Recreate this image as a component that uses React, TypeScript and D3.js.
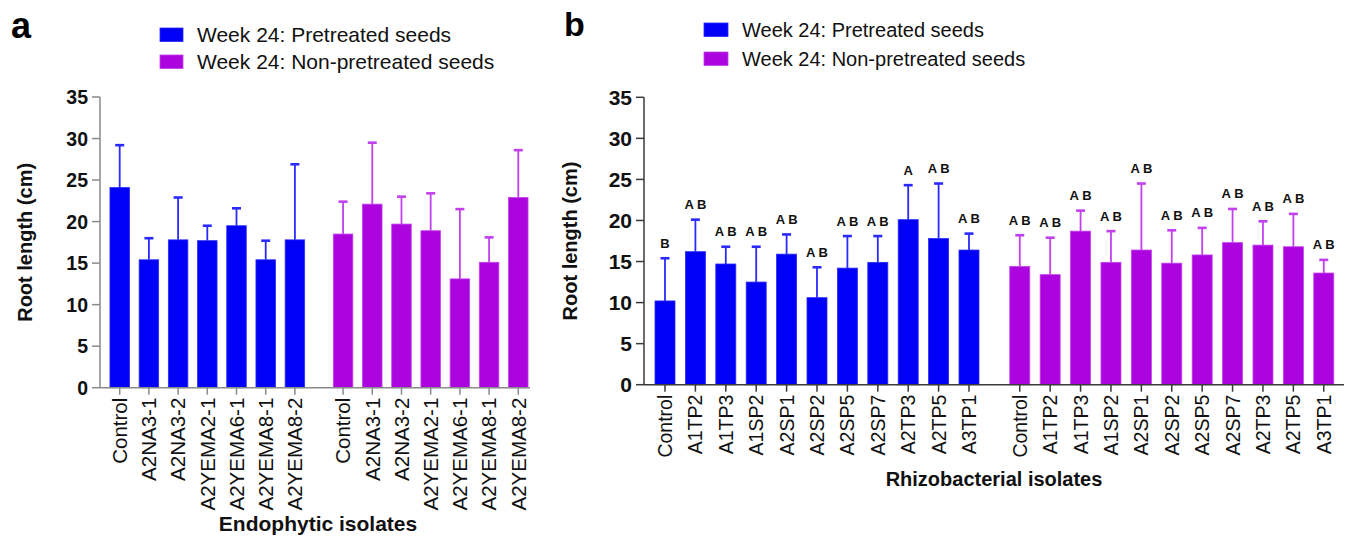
import React from 'react';
import * as d3 from 'd3';

// Panel a: endophytic isolates
const endoCats = ['Control', 'A2NA3-1', 'A2NA3-2', 'A2YEMA2-1', 'A2YEMA6-1', 'A2YEMA8-1', 'A2YEMA8-2'];
const endoPre = [24.1, 15.4, 17.8, 17.7, 19.5, 15.4, 17.8];
const endoPreSd = [5.1, 2.6, 5.1, 1.8, 2.1, 2.3, 9.1];
const endoNon = [18.5, 22.1, 19.7, 18.9, 13.1, 15.1, 22.9];
const endoNonSd = [3.9, 7.4, 3.3, 4.5, 8.4, 3.0, 5.7];

// Panel b: rhizobacterial isolates
const rhizoCats = ['Control', 'A1TP2', 'A1TP3', 'A1SP2', 'A2SP1', 'A2SP2', 'A2SP5', 'A2SP7', 'A2TP3', 'A2TP5', 'A3TP1'];
const rhizoPre = [10.2, 16.2, 14.7, 12.5, 15.9, 10.6, 14.2, 14.9, 20.1, 17.8, 16.4];
const rhizoPreSd = [5.2, 3.9, 2.1, 4.3, 2.4, 3.7, 3.9, 3.2, 4.2, 6.7, 2.0];
const rhizoPreLetters = ['B', 'A B', 'A B', 'A B', 'A B', 'A B', 'A B', 'A B', 'A', 'A B', 'A B'];
const rhizoNon = [14.4, 13.4, 18.7, 14.9, 16.4, 14.8, 15.8, 17.3, 17.0, 16.8, 13.6];
const rhizoNonSd = [3.8, 4.5, 2.5, 3.8, 8.1, 4.0, 3.3, 4.1, 2.9, 4.0, 1.6];
const rhizoNonLetters = ['A B', 'A B', 'A B', 'A B', 'A B', 'A B', 'A B', 'A B', 'A B', 'A B', 'A B'];

const yTicks = [0, 5, 10, 15, 20, 25, 30, 35];
const legendLabels = ['Week 24: Pretreated seeds', 'Week 24: Non-pretreated seeds'];

const BLUE = '#0000f6';
const BLUE_EDGE = '#2a2aff';
const PURPLE = '#ab04df';
const PURPLE_EDGE = '#c240ee';
const FONT = 'Liberation Sans, Arial, sans-serif';

interface PanelProps {
  letter: string;
  letterX: number;
  letterY: number;
  letterSize: number;
  cats: string[];
  pre: number[];
  preSd: number[];
  non: number[];
  nonSd: number[];
  preLetters?: string[];
  nonLetters?: string[];
  gapSlots: number;
  x0: number;
  step: number;
  barW: number;
  axisX: number;
  axisEnd: number;
  yTop: number;
  yBottom: number;
  axisColor: string;
  tickSize: number;
  ytitleX: number;
  ytitleSize: number;
  xLabelSize: number;
  xtitle: string;
  xtitleX: number;
  xtitleY: number;
  xtitleSize: number;
  legendX: number;
  legendY: number[];
  legendSize: number;
  swatchW: number;
}

const Panel: React.FC<PanelProps> = (p) => {
  const n = p.cats.length;
  const lastSlot = n + p.gapSlots + n - 1;
  const x = d3.scaleLinear().domain([0, lastSlot]).range([p.x0, p.x0 + lastSlot * p.step]);
  const y = d3.scaleLinear().domain([0, 35]).range([p.yBottom, p.yTop]);

  const groups = [
    { vals: p.pre, sd: p.preSd, fill: BLUE, edge: BLUE_EDGE, off: 0, letters: p.preLetters },
    { vals: p.non, sd: p.nonSd, fill: PURPLE, edge: PURPLE_EDGE, off: n + p.gapSlots, letters: p.nonLetters },
  ];

  return (
    <g>
      <text x={p.letterX} y={p.letterY} fontSize={p.letterSize} fontWeight="bold" fontFamily={FONT}>{p.letter}</text>

      {legendLabels.map((lab, i) => (
        <g key={lab}>
          <rect x={p.legendX} y={p.legendY[i] - 14} width={p.swatchW} height={13.5}
            fill={i === 0 ? BLUE : PURPLE} stroke={i === 0 ? BLUE_EDGE : PURPLE_EDGE} strokeWidth={0.8} />
          <text x={p.legendX + p.swatchW + 14} y={p.legendY[i]} fontSize={p.legendSize} fontFamily={FONT} fill="#111">{lab}</text>
        </g>
      ))}

      {/* y axis */}
      <line x1={p.axisX} x2={p.axisX} y1={p.yTop} y2={p.yBottom} stroke={p.axisColor} strokeWidth={1.5} />
      {yTicks.map(t => (
        <g key={t}>
          <line x1={p.axisX - 8} x2={p.axisX} y1={y(t)} y2={y(t)} stroke={p.axisColor} strokeWidth={1.5} />
          <text x={p.axisX - 12} y={y(t)} dy="0.36em" textAnchor="end" fontSize={p.tickSize}
            fontWeight="bold" fontFamily={FONT} fill="#111">{t}</text>
        </g>
      ))}
      <text transform={`translate(${p.ytitleX},${(p.yTop + p.yBottom) / 2}) rotate(-90)`} textAnchor="middle"
        fontSize={p.ytitleSize} fontWeight="bold" fontFamily={FONT} fill="#111">Root length (cm)</text>

      {/* bars */}
      {groups.map((g, gi) => g.vals.map((v, i) => {
        const cx = x(g.off + i);
        const top = y(v);
        const errTop = y(v + g.sd[i]);
        return (
          <g key={`${gi}-${i}`}>
            <rect x={cx - p.barW / 2} y={top} width={p.barW} height={p.yBottom - top}
              fill={g.fill} stroke={g.edge} strokeWidth={0.8} />
            <line x1={cx} x2={cx} y1={top} y2={errTop} stroke={g.edge} strokeWidth={1.8} />
            <line x1={cx - 4.5} x2={cx + 4.5} y1={errTop} y2={errTop} stroke={g.edge} strokeWidth={2.6} />
            {g.letters && (
              <text x={cx} y={errTop - 10.5} textAnchor="middle" fontSize={13} fontWeight="bold"
                fontFamily={FONT} fill="#111">{g.letters[i]}</text>
            )}
          </g>
        );
      }))}

      {/* x axis */}
      <line x1={p.axisX} x2={p.axisEnd} y1={p.yBottom} y2={p.yBottom} stroke={p.axisColor} strokeWidth={1.5} />
      {groups.map((g, gi) => p.cats.map((c, i) => {
        const cx = x(g.off + i);
        return (
          <g key={`t${gi}-${i}`}>
            <line x1={cx} x2={cx} y1={p.yBottom} y2={p.yBottom + 7} stroke={p.axisColor} strokeWidth={1.5} />
            <text transform={`translate(${cx},${p.yBottom + 10}) rotate(-90)`} dy="0.36em" textAnchor="end"
              fontSize={p.xLabelSize} fontFamily={FONT} fill="#111">{c}</text>
          </g>
        );
      }))}
      <text x={p.xtitleX} y={p.xtitleY} textAnchor="middle" fontSize={p.xtitleSize} fontWeight="bold"
        fontFamily={FONT} fill="#111">{p.xtitle}</text>
    </g>
  );
};

export default function App() {
  return (
    <svg width={1355} height={545} viewBox="0 0 1355 545"
      style={{ position: 'absolute', left: 0, top: 0, background: '#fff', display: 'block' }}>
      <rect width={1355} height={545} fill="#fff" />
      <Panel
        letter="a" letterX={11} letterY={38} letterSize={36}
        cats={endoCats} pre={endoPre} preSd={endoPreSd} non={endoNon} nonSd={endoNonSd}
        gapSlots={0.65} x0={119.7} step={29.2} barW={19.5}
        axisX={100} axisEnd={530} yTop={97} yBottom={387.7} axisColor="#8a8a8a" tickSize={19.5}
        ytitleX={32} ytitleSize={20} xLabelSize={20.5}
        xtitle="Endophytic isolates" xtitleX={318} xtitleY={531} xtitleSize={21}
        legendX={160} legendY={[42, 69]} legendSize={21} swatchW={23}
      />
      <Panel
        letter="b" letterX={564} letterY={36} letterSize={34}
        cats={rhizoCats} pre={rhizoPre} preSd={rhizoPreSd} non={rhizoNon} nonSd={rhizoNonSd}
        preLetters={rhizoPreLetters} nonLetters={rhizoNonLetters}
        gapSlots={0.67} x0={665} step={30.4} barW={20}
        axisX={644} axisEnd={1344} yTop={97.3} yBottom={384.7} axisColor="#3a3a3a" tickSize={21}
        ytitleX={577} ytitleSize={20} xLabelSize={19.5}
        xtitle="Rhizobacterial isolates" xtitleX={994} xtitleY={486} xtitleSize={20}
        legendX={704} legendY={[37, 66]} legendSize={20} swatchW={24}
      />
    </svg>
  );
}
